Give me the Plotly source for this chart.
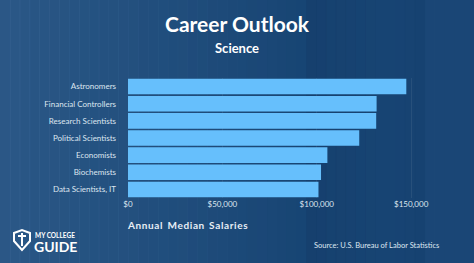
import plotly.graph_objects as go

categories = ["Astronomers", "Financial Controllers", "Research Scientists",
              "Political Scientists", "Economists", "Biochemists", "Data Scientists, IT"]
salaries = [147450, 131710, 131490, 122510, 105630, 102270, 100910]
tick_vals = [0, 50000, 100000, 150000]
tick_text = ["$0", "$50,000", "$100,000", "$150,000"]

W, H = 474, 263
ML, MR, MT, MB = 128, 44, 78, 65
PW, PH = W - ML - MR, H - MT - MB

def px(x):
    return (x - ML) / PW

def py(y):
    return (H - MB - y) / PH

fig = go.Figure()
fig.add_trace(go.Bar(
    y=categories, x=salaries, orientation="h",
    marker=dict(color="#66bffc", line=dict(width=0)),
    hoverinfo="skip",
))

shapes = []
# soft horizontal gradient built from thin stripes
N = 48
for i in range(N):
    x0 = W * i / N
    x1 = W * (i + 1) / N
    t = (i + 0.5) / N
    if t < 0.65:
        a = 0.20 * (1 - t / 0.65)
        col = f"rgba(120,165,210,{a:.3f})"
    else:
        a = 0.12 * (1 - abs(t - 0.82) / 0.17)
        a = max(a, 0)
        col = f"rgba(10,30,70,{0.12 - a:.3f})" if t < 0.9 else f"rgba(60,100,150,{0.06:.3f})"
    shapes.append(dict(type="rect", xref="paper", yref="paper", x0=px(x0), x1=px(x1 + 0.5),
                       y0=py(H), y1=py(0), fillcolor=col, line_width=0, layer="below"))

# shield logo
pts = [(14, 233), (22, 230), (30, 233), (30, 241), (22, 250), (14, 241)]
path = "M " + " L ".join(f"{px(a):.4f},{py(b):.4f}" for a, b in pts) + " Z"
shapes.append(dict(type="path", xref="paper", yref="paper", path=path,
                   line=dict(color="white", width=2), fillcolor="rgba(0,0,0,0)"))
path2 = f"M {px(22):.4f},{py(233):.4f} L {px(22):.4f},{py(246):.4f} M {px(18):.4f},{py(236):.4f} L {px(26):.4f},{py(236):.4f}"
shapes.append(dict(type="path", xref="paper", yref="paper", path=path2,
                   line=dict(color="white", width=2)))

annotations = [
    dict(text="<b>Career Outlook</b>", x=px(237), y=py(23), xref="paper", yref="paper",
         showarrow=False, font=dict(size=21, color="white", family="Lato"), xanchor="center", yanchor="middle"),
    dict(text="<b>Science</b>", x=px(237), y=py(48), xref="paper", yref="paper",
         showarrow=False, font=dict(size=13, color="white", family="Lato"), xanchor="center", yanchor="middle"),
    dict(text="<b>A\u200an\u200an\u200au\u200aa\u200al  M\u200ae\u200ad\u200ai\u200aa\u200an  S\u200aa\u200al\u200aa\u200ar\u200ai\u200ae\u200as</b>",
         x=px(124.5), y=py(225), xref="paper", yref="paper", showarrow=False,
         font=dict(size=10, color="#e8eef6", family="Lato"), xanchor="left", yanchor="middle"),
    dict(text="Source: U.S. Bureau of Labor Statistics", x=px(441), y=py(245), xref="paper", yref="paper",
         showarrow=False, font=dict(size=7.5, color="#dfe7f1", family="Lato"), xanchor="right", yanchor="middle"),
    dict(text="<b>MY COLLEGE</b>", x=px(33), y=py(235.5), xref="paper", yref="paper", showarrow=False,
         font=dict(size=6.5, color="white", family="Lato"), xanchor="left", yanchor="middle"),
    dict(text="<b>GUIDE</b>", x=px(32), y=py(246.5), xref="paper", yref="paper", showarrow=False,
         font=dict(size=14, color="white", family="Lato"), xanchor="left", yanchor="middle"),
]

fig.update_layout(
    width=W, height=H,
    margin=dict(l=ML, r=MR, t=MT, b=MB, pad=0),
    paper_bgcolor="#184574", plot_bgcolor="rgba(0,0,0,0)",
    bargap=0.09, showlegend=False,
    shapes=shapes, annotations=annotations,
    font=dict(family="Lato", color="#dde6f0"),
    xaxis=dict(range=[0, 160000], tickvals=tick_vals, ticktext=tick_text, showgrid=True,
               gridcolor="rgba(255,255,255,0.07)", gridwidth=1, zeroline=False, showline=False,
               tickfont=dict(size=8, color="#dde6f0"), ticks="", fixedrange=True),
    yaxis=dict(autorange="reversed", showgrid=False, zeroline=False, showline=False,
               tickfont=dict(size=8, color="#dde6f0"), ticks="", ticklabelstandoff=11, fixedrange=True),
)

fig.write_html("out.html", config={"displayModeBar": False})
